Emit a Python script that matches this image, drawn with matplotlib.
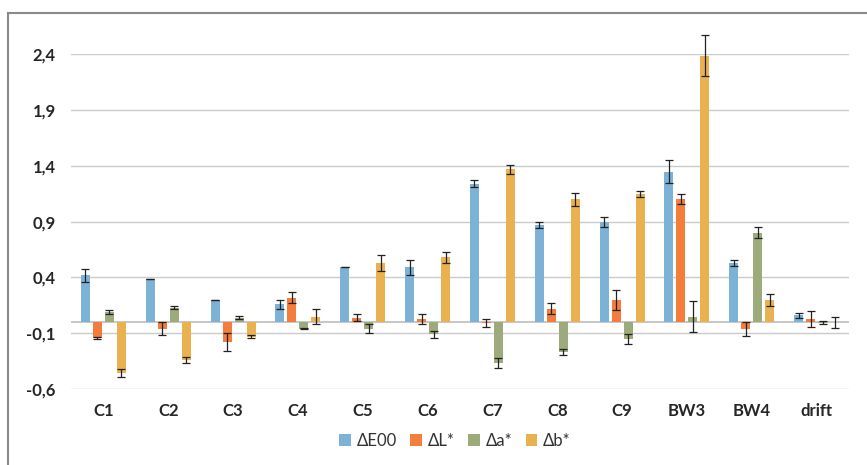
import matplotlib
matplotlib.use("Agg")
import matplotlib.pyplot as plt
import numpy as np
from matplotlib.lines import Line2D

categories = ["C1", "C2", "C3", "C4", "C5", "C6", "C7", "C8", "C9", "BW3", "BW4", "drift"]
series_names = ["ΔE00", "ΔL*", "Δa*", "Δb*"]

dE00 = [0.42, 0.39, 0.20, 0.16, 0.49, 0.49, 1.24, 0.87, 0.90, 1.35, 0.53, 0.06]
dE00_err = [0.06, 0.0, 0.0, 0.04, 0.0, 0.07, 0.03, 0.03, 0.045, 0.105, 0.03, 0.02]
dL = [-0.14, -0.06, -0.18, 0.22, 0.04, 0.03, -0.01, 0.12, 0.20, 1.10, -0.06, 0.03]
dL_err = [0.01, 0.06, 0.08, 0.05, 0.03, 0.045, 0.035, 0.05, 0.09, 0.045, 0.065, 0.07]
da = [0.09, 0.13, 0.04, -0.06, -0.06, -0.11, -0.37, -0.27, -0.15, 0.05, 0.80, -0.005]
da_err = [0.02, 0.015, 0.015, 0.005, 0.04, 0.03, 0.045, 0.025, 0.045, 0.14, 0.05, 0.015]
db = [-0.46, -0.34, -0.13, 0.05, 0.53, 0.58, 1.37, 1.10, 1.15, 2.39, 0.20, 0.0]
db_err = [0.035, 0.03, 0.015, 0.07, 0.07, 0.05, 0.04, 0.06, 0.03, 0.185, 0.055, 0.05]

yticks = [-0.6, -0.1, 0.4, 0.9, 1.4, 1.9, 2.4]
ytick_labels = ["-0,6", "-0,1", "0,4", "0,9", "1,4", "1,9", "2,4"]

colors = ["#7DB1D6", "#F47C3C", "#9DAA7C", "#E9B14F"]

plt.rcParams['font.family'] = ['Lato', 'DejaVu Sans']

fig = plt.figure(figsize=(8.67, 4.65), dpi=100)
ax = fig.add_axes([71/867, 1 - 389/465, (849 - 71)/867, (389 - 54.5)/465])

x = np.arange(len(categories))
vals = [dE00, dL, da, db]
errs = [dE00_err, dL_err, da_err, db_err]
width = 0.14
step = 0.185
for i, (v, e, c, n) in enumerate(zip(vals, errs, colors, series_names)):
    pos = x + (i - 1.5) * step
    ax.bar(pos, v, width=width, color=c, label=n, zorder=3)
    ebc = ax.errorbar(pos, v, yerr=e, fmt='none', ecolor='#222222', elinewidth=0.9,
                      capsize=3.2, capthick=0.9, zorder=4)
    for a in ebc.get_children():
        a.set_clip_on(False)

ax.set_xlim(-0.5, len(categories) - 0.5)
ax.set_ylim(-0.6, 2.4)
ax.set_yticks(yticks)
ax.set_yticklabels(ytick_labels, fontsize=12, fontweight='bold', color='#262626')
ax.set_xticks(x)
ax.set_xticklabels(categories, fontsize=12, fontweight='bold', color='#262626')
ax.tick_params(axis='y', length=0, pad=11)
ax.tick_params(axis='x', length=0, pad=10)
ax.grid(axis='y', color='#CBCBCB', linewidth=1.0, zorder=0)
ax.axhline(0, color='#BDBDBD', linewidth=1.2, zorder=2)
for s in ax.spines.values():
    s.set_visible(False)

leg = fig.legend(loc='center', bbox_to_anchor=(455/867, 1 - 441/465), ncol=4, frameon=False,
                 fontsize=12, handlelength=0.7, handleheight=0.7, handletextpad=0.35,
                 columnspacing=0.8)
for t in leg.get_texts():
    t.set_color('#333333')

# outer frame (left and top)
fig.add_artist(Line2D([8/867, 8/867], [0, 1 - 13/465], transform=fig.transFigure,
                      color='#8A8A8A', linewidth=1.5))
fig.add_artist(Line2D([8/867, 1], [1 - 13/465, 1 - 13/465], transform=fig.transFigure,
                      color='#8A8A8A', linewidth=1.5))

fig.savefig("out.png", dpi=100)
